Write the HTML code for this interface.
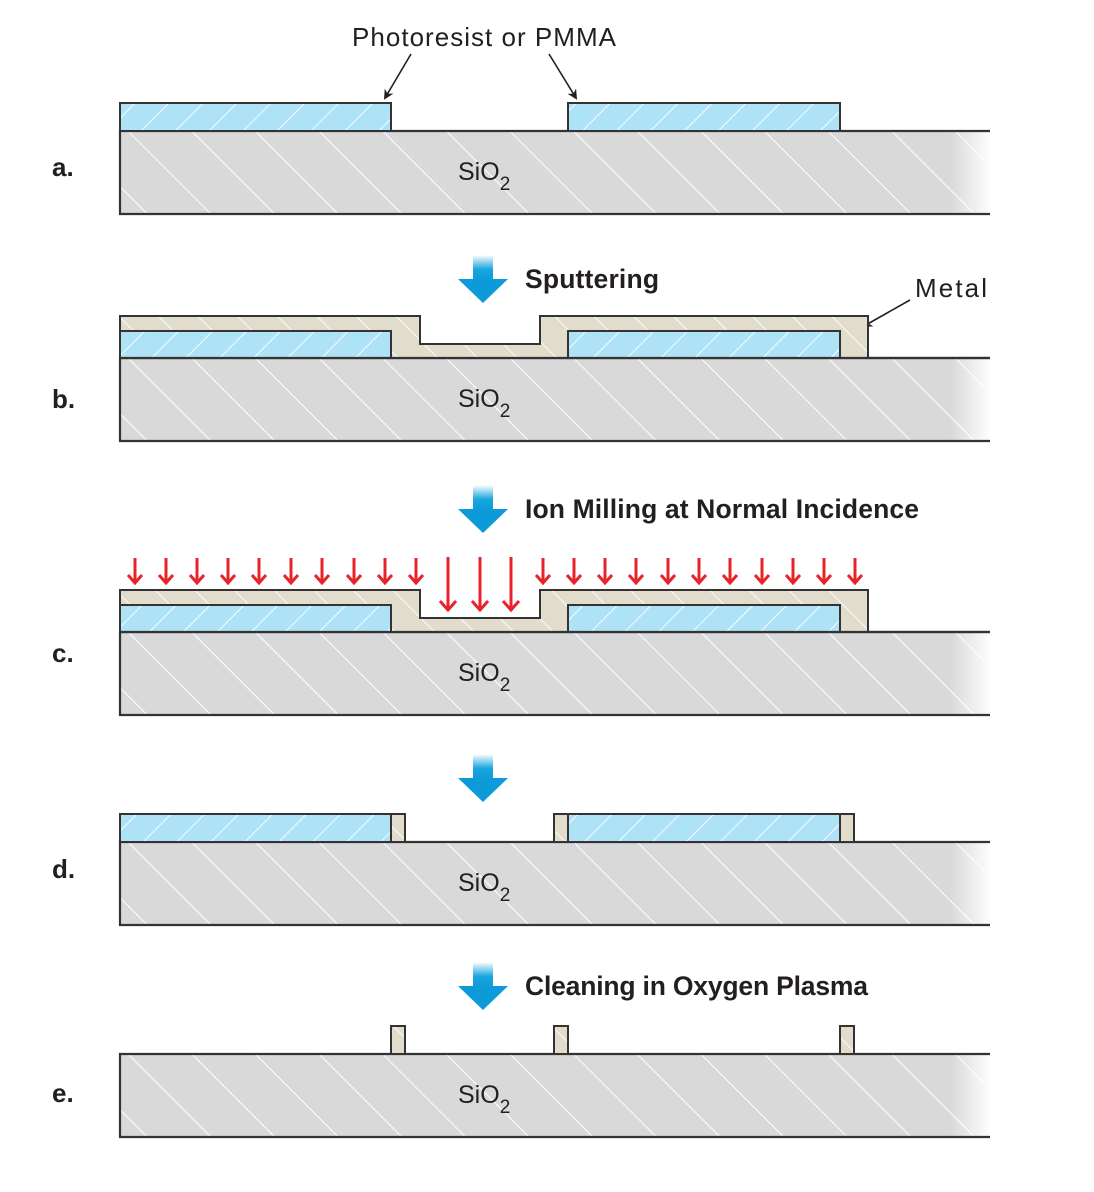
<!DOCTYPE html>
<html><head><meta charset="utf-8"><style>
html,body{margin:0;padding:0;background:#fff;}
svg{display:block;}
text{font-family:"Liberation Sans",sans-serif;fill:#231f20;}
.lbl{font-size:26px;font-weight:bold;}
.step{font-size:26.5px;font-weight:bold;}
.sio{font-size:25px;}
</style></head><body>
<svg width="1094" height="1192" viewBox="0 0 1094 1192" xmlns="http://www.w3.org/2000/svg">
<defs>
<pattern id="hs" patternUnits="userSpaceOnUse" width="45" height="45" patternTransform="rotate(-45)">
<rect width="45" height="45" fill="#d9d9da"/><line x1="0" y1="0" x2="0" y2="45" stroke="#fff" stroke-width="2"/></pattern>
<pattern id="hr" patternUnits="userSpaceOnUse" width="24" height="24" patternTransform="rotate(45)">
<rect width="24" height="24" fill="#aee2f7"/><line x1="0" y1="0" x2="0" y2="24" stroke="#fff" stroke-width="1.8"/></pattern>
<pattern id="hm" patternUnits="userSpaceOnUse" width="28" height="28" patternTransform="rotate(-45)">
<rect width="28" height="28" fill="#e1dccb"/><line x1="0" y1="0" x2="0" y2="28" stroke="#fff" stroke-width="1.8"/></pattern>
<linearGradient id="fade" x1="0" x2="1" y1="0" y2="0"><stop offset="0" stop-color="#fff" stop-opacity="0"/><stop offset="1" stop-color="#fff" stop-opacity="1"/></linearGradient>
<linearGradient id="blue" x1="0" x2="0" y1="0" y2="1"><stop offset="0" stop-color="#fff"/><stop offset="0.55" stop-color="#1aa6df"/><stop offset="1" stop-color="#0c9ad8"/></linearGradient>
<marker id="ah" markerWidth="10" markerHeight="10" refX="8" refY="5" orient="auto" markerUnits="userSpaceOnUse"><path d="M0,0 L10,5 L0,10 L3,5z" fill="#231f20"/></marker>
<g id="sub"><rect x="120" y="0" width="870" height="83" fill="url(#hs)"/><rect x="950" y="0" width="42" height="83" fill="url(#fade)"/>
<path d="M990,0 H120 V83 H990" fill="none" stroke="#333" stroke-width="2.2"/></g>
<g id="blu"><rect x="473" y="0" width="20" height="26" fill="url(#blue)"/><path d="M458,24 H508 L483,48z" fill="#0c9ad8"/></g>
<g id="ra"><path d="M0,0 V24 M-7,17 L0,25 L7,17" fill="none" stroke="#e8232a" stroke-width="3"/></g>
<g id="rl"><path d="M0,0 V52 M-8,44 L0,53 L8,44" fill="none" stroke="#e8232a" stroke-width="3"/></g>
</defs>

<!-- a -->
<text x="352" y="46" style="font-size:26px" textLength="264">Photoresist or PMMA</text>
<line x1="411" y1="54" x2="385" y2="98" stroke="#231f20" stroke-width="1.6" marker-end="url(#ah)"/>
<line x1="549" y1="54" x2="576" y2="98" stroke="#231f20" stroke-width="1.6" marker-end="url(#ah)"/>
<use href="#sub" y="131"/>
<rect x="120" y="103" width="271" height="28" fill="url(#hr)" stroke="#333" stroke-width="2"/>
<rect x="568" y="103" width="272" height="28" fill="url(#hr)" stroke="#333" stroke-width="2"/>
<text x="52" y="176" class="lbl">a.</text>
<text x="458" y="180" class="sio">SiO<tspan font-size="19" dy="10">2</tspan></text>

<!-- b -->
<use href="#blu" y="255"/>
<text x="525" y="288" class="step" textLength="134">Sputtering</text>
<text x="915" y="297" style="font-size:26px" textLength="72">Metal</text>
<line x1="910" y1="300" x2="864" y2="326" stroke="#231f20" stroke-width="1.6" marker-end="url(#ah)"/>
<use href="#sub" y="358"/>
<path d="M120,316 H420 V344 H540 V316 H868 V358 H120z" fill="url(#hm)" stroke="#333" stroke-width="2"/>
<rect x="120" y="331" width="271" height="27" fill="url(#hr)" stroke="#333" stroke-width="2"/>
<rect x="568" y="331" width="272" height="27" fill="url(#hr)" stroke="#333" stroke-width="2"/>
<line x1="120" y1="358" x2="990" y2="358" stroke="#333" stroke-width="2.2"/>
<text x="52" y="408" class="lbl">b.</text>
<text x="458" y="407" class="sio">SiO<tspan font-size="19" dy="10">2</tspan></text>

<!-- c -->
<use href="#blu" y="485"/>
<text x="525" y="518" class="step" textLength="394">Ion Milling at Normal Incidence</text>
<use href="#ra" x="135" y="558"/><use href="#ra" x="166" y="558"/><use href="#ra" x="197" y="558"/><use href="#ra" x="228" y="558"/><use href="#ra" x="259" y="558"/><use href="#ra" x="291" y="558"/><use href="#ra" x="322" y="558"/><use href="#ra" x="354" y="558"/><use href="#ra" x="385" y="558"/><use href="#ra" x="416" y="558"/>
<use href="#rl" x="448" y="557"/><use href="#rl" x="480" y="557"/><use href="#rl" x="511" y="557"/>
<use href="#ra" x="543" y="558"/><use href="#ra" x="574" y="558"/><use href="#ra" x="605" y="558"/><use href="#ra" x="636" y="558"/><use href="#ra" x="668" y="558"/><use href="#ra" x="699" y="558"/><use href="#ra" x="730" y="558"/><use href="#ra" x="762" y="558"/><use href="#ra" x="793" y="558"/><use href="#ra" x="824" y="558"/><use href="#ra" x="855" y="558"/>
<use href="#sub" y="632"/>
<path d="M120,590 H420 V618 H540 V590 H868 V632 H120z" fill="url(#hm)" stroke="#333" stroke-width="2"/>
<rect x="120" y="605" width="271" height="27" fill="url(#hr)" stroke="#333" stroke-width="2"/>
<rect x="568" y="605" width="272" height="27" fill="url(#hr)" stroke="#333" stroke-width="2"/>
<line x1="120" y1="632" x2="990" y2="632" stroke="#333" stroke-width="2.2"/>
<text x="52" y="662" class="lbl">c.</text>
<text x="458" y="681" class="sio">SiO<tspan font-size="19" dy="10">2</tspan></text>

<!-- d -->
<use href="#blu" y="754"/>
<use href="#sub" y="842"/>
<rect x="120" y="814" width="271" height="28" fill="url(#hr)" stroke="#333" stroke-width="2"/>
<rect x="391" y="814" width="14" height="28" fill="url(#hm)" stroke="#333" stroke-width="2"/>
<rect x="554" y="814" width="14" height="28" fill="url(#hm)" stroke="#333" stroke-width="2"/>
<rect x="568" y="814" width="272" height="28" fill="url(#hr)" stroke="#333" stroke-width="2"/>
<rect x="840" y="814" width="14" height="28" fill="url(#hm)" stroke="#333" stroke-width="2"/>
<text x="52" y="878" class="lbl">d.</text>
<text x="458" y="891" class="sio">SiO<tspan font-size="19" dy="10">2</tspan></text>

<!-- e -->
<use href="#blu" y="962"/>
<text x="525" y="995" class="step" textLength="343">Cleaning in Oxygen Plasma</text>
<use href="#sub" y="1054"/>
<rect x="391" y="1026" width="14" height="28" fill="url(#hm)" stroke="#333" stroke-width="2"/>
<rect x="554" y="1026" width="14" height="28" fill="url(#hm)" stroke="#333" stroke-width="2"/>
<rect x="840" y="1026" width="14" height="28" fill="url(#hm)" stroke="#333" stroke-width="2"/>
<text x="52" y="1102" class="lbl">e.</text>
<text x="458" y="1103" class="sio">SiO<tspan font-size="19" dy="10">2</tspan></text>
</svg>
</body></html>
